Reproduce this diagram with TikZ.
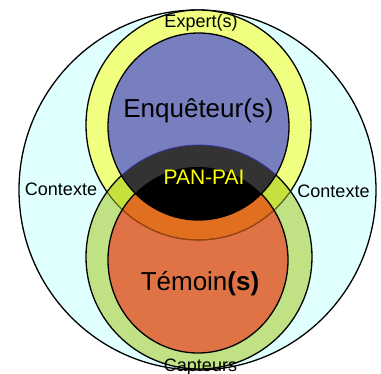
\documentclass[tikz,border=0pt]{standalone}
\usepackage{fontspec}
\setmainfont{Liberation Sans}
\definecolor{cyanbg}{HTML}{E0FFFF}
\definecolor{yelc}{HTML}{F0FF80}
\definecolor{bluc}{HTML}{777FBF}
\definecolor{grnc}{HTML}{C1E284}
\definecolor{orgc}{HTML}{E07345}
\definecolor{ygc}{HTML}{C6E03E}
\definecolor{dorgc}{HTML}{E07020}
\definecolor{grayc}{HTML}{333333}
\definecolor{olivec}{HTML}{4E5A18}
\definecolor{redc}{HTML}{A83C10}
\definecolor{thinblue}{HTML}{3434A0}
\definecolor{panyel}{HTML}{FFFF00}
\begin{document}
\begin{tikzpicture}[x=1pt,y=-1pt,
  outerP/.style={insert path={(197.5,190) ellipse [x radius=178.5pt, y radius=180pt]}},
  yelP/.style={insert path={(198.5,125) ellipse [x radius=112.5pt, y radius=115pt]}},
  bluP/.style={insert path={(198.5,126.5) ellipse [x radius=90.5pt, y radius=93.5pt]}},
  greP/.style={insert path={(199,257) ellipse [x radius=113pt, y radius=112pt]}},
  orgP/.style={insert path={(198,260) ellipse [x radius=90pt, y radius=93pt]}},
  edge/.style={line width=1.3pt},
  small/.style={font=\fontsize{18}{20}\selectfont, anchor=base, inner sep=0pt},
  big/.style={font=\fontsize{26}{28}\selectfont, anchor=base, inner sep=0pt}]
\useasboundingbox (0,0) rectangle (381,374);
% fills
\fill[cyanbg, draw=black, edge, outerP];
\fill[yelc, yelP];
\fill[grnc, greP];
\begin{scope}
  \clip[yelP];
  \fill[ygc, greP];
\end{scope}
\fill[bluc, bluP];
\fill[orgc, orgP];
\begin{scope}
  \clip[yelP];
  \fill[dorgc, orgP];
\end{scope}
\begin{scope}
  \clip[bluP];
  \fill[grayc, greP];
  \fill[black, orgP];
\end{scope}
% yellow outline
\begin{scope}[even odd rule]
  \clip[greP] (-10,-10) rectangle (400,400);
  \draw[edge, yelP];
\end{scope}
\begin{scope}
  \clip[greP];
  \draw[olivec, line width=1.1pt, yelP];
\end{scope}
\begin{scope}
  \clip[orgP];
  \draw[redc, line width=1.1pt, yelP];
\end{scope}
% green outline
\begin{scope}[even odd rule]
  \clip[bluP] (-10,-10) rectangle (400,400);
  \draw[edge, greP];
\end{scope}
\begin{scope}
  \clip[bluP];
  \draw[thinblue, line width=0.8pt, greP];
\end{scope}
% blue and orange outlines
\draw[edge, bluP];
\begin{scope}[even odd rule]
  \clip[bluP] (-10,-10) rectangle (400,400);
  \draw[edge, orgP];
\end{scope}
% texts
\node[small] (expert) at (201,28) {Expert(s)};
\node[big] (enq) at (198.5,118) {Enquêteur(s)};
\node[font=\fontsize{21}{23}\selectfont, anchor=base, inner sep=0pt, text=panyel] (pan) at (204,185) {PAN-PAI};
\node[small] (ctxl) at (61,195.5) {Contexte};
\node[small] (ctxr) at (333.5,198) {Contexte};
\node[big] (tem) at (200,291) {Témoin\textbf{(s)}};
\node[small] (capt) at (200.5,371.5) {Capteurs};
\end{tikzpicture}
\end{document}
